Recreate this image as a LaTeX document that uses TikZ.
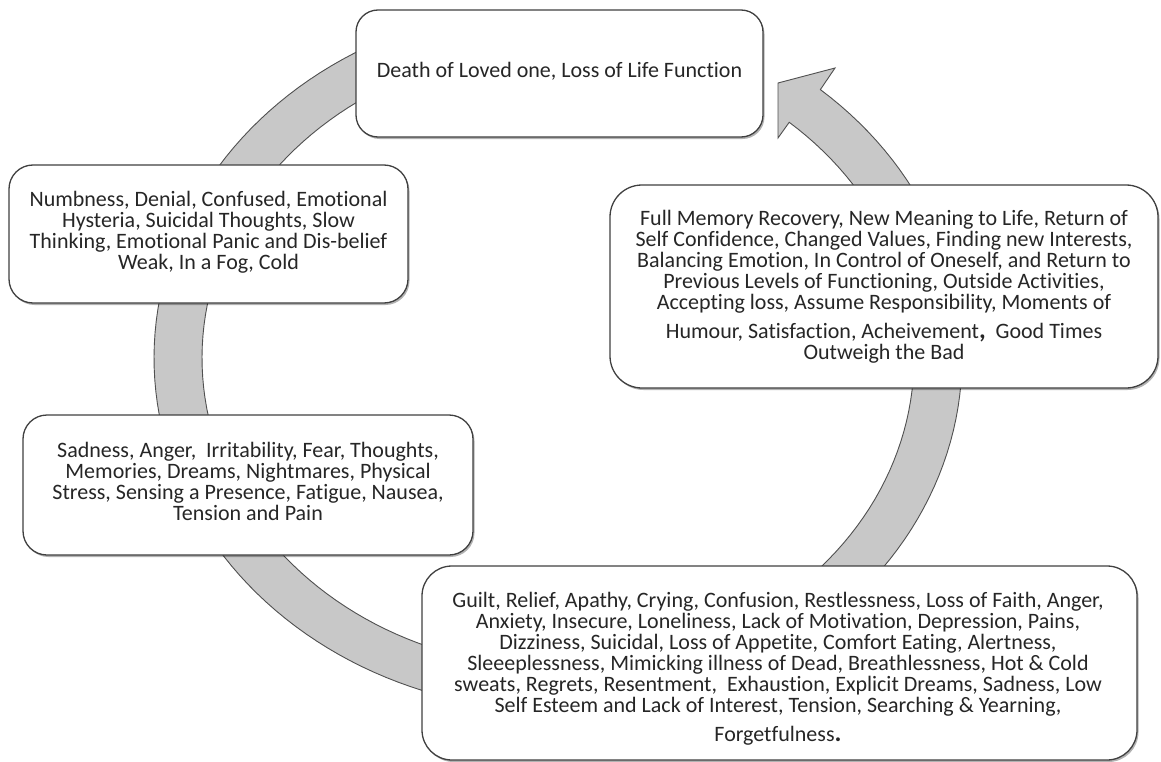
\documentclass[tikz,border=0pt]{standalone}
\usepackage{fontspec}
\setmainfont[Ligatures={NoCommon,NoContextual},Contextuals=NoAlternate]{Carlito}
\usetikzlibrary{shadows}
\definecolor{bordercol}{HTML}{404040}
\definecolor{bandfill}{HTML}{C8C8C8}
\definecolor{bandline}{HTML}{505050}
\definecolor{txtcol}{HTML}{262626}
\tikzset{
  stagebox/.style={draw=bordercol, line width=1.3bp, fill=white, rounded corners=#1,
    inner sep=0pt, drop shadow={shadow xshift=1.5bp, shadow yshift=-2bp, opacity=0.3, fill=black}},
  stagetext/.style={align=center, text=txtcol, inner sep=0pt, font=\fontsize{22bp}{21bp}\selectfont},
  band/.style={fill=bandfill, draw=bandline, line width=0.9bp, line join=miter}
}
\begin{document}
\begin{tikzpicture}[x=1bp,y=-1bp]
\useasboundingbox (0,0) rectangle (1161,762);
% circular arrow band
\draw[band]
  plot[domain=105:409.5, samples=160] ({558+404*cos(\x)},{358-353*sin(\x)})
  -- (835,68) -- (778,83) -- (778,138)
  -- plot[domain=105:409.5, samples=160] ({558+356*cos(514.5-\x)},{358-310*sin(514.5-\x)})
  -- cycle;
% boxes
\node[stagebox=22bp, minimum width=407bp, minimum height=127bp] (b1) at (559.5,73.5) {};
\node[stagebox=24bp, minimum width=399bp, minimum height=138bp] (b2) at (208.5,234) {};
\node[stagebox=24bp, minimum width=450bp, minimum height=140bp] (b3) at (248,485) {};
\node[stagebox=30bp, minimum width=715bp, minimum height=194bp] (b4) at (779.5,663) {};
\node[stagebox=32bp, minimum width=548bp, minimum height=203bp] (b5) at (884,286.5) {};
% texts
\node[stagetext] (t1) at (559.5,71.5) {Death of Loved one, Loss of Life Function};
\node[stagetext] (t2) at (208.5,232.75) {Numbness, Denial, Confused, Emotional\\
Hysteria, Suicidal Thoughts, Slow\\
Thinking, Emotional Panic and Dis-belief\\
Weak, In a Fog, Cold};
\node[stagetext] (t3) at (248,481.5) {Sadness, Anger,\ \ Irritability, Fear, Thoughts,\\
Memories, Dreams, Nightmares, Physical\\
Stress, Sensing a Presence, Fatigue, Nausea,\\
Tension and Pain};
\node[stagetext] (t4) at (778,669) {Guilt, Relief, Apathy,\ Crying, Confusion, Restlessness, Loss of Faith, Anger,\\
Anxiety,\ Insecure, Loneliness, Lack of Motivation, Depression, Pains,\\
Dizziness, Suicidal, Loss of Appetite,\ Comfort Eating,\ Alertness,\\
Sleeeplessness, Mimicking illness of Dead, Breathlessness, Hot \& Cold\\
sweats, Regrets,\ Resentment,\ \ Exhaustion, Explicit Dreams, Sadness, Low\\
Self Esteem\ and Lack of Interest, Tension, Searching \& Yearning,\\[8bp]
Forgetfulness{\bfseries\fontsize{26bp}{21bp}\selectfont .}};
\node[stagetext] (t5) at (884,286.75) {Full Memory Recovery, New\ Meaning to Life, Return of\\
Self Confidence, Changed\ Values, Finding new\ Interests,\\
Balancing Emotion, In Control of Oneself, and Return to\\
Previous Levels of Functioning, Outside Activities,\\
Accepting loss, Assume Responsibility, Moments of\\[8bp]
Humour, Satisfaction, Acheivement{\bfseries\fontsize{26bp}{21bp}\selectfont ,}\ \ Good Times\\
Outweigh the Bad};
\end{tikzpicture}
\end{document}
